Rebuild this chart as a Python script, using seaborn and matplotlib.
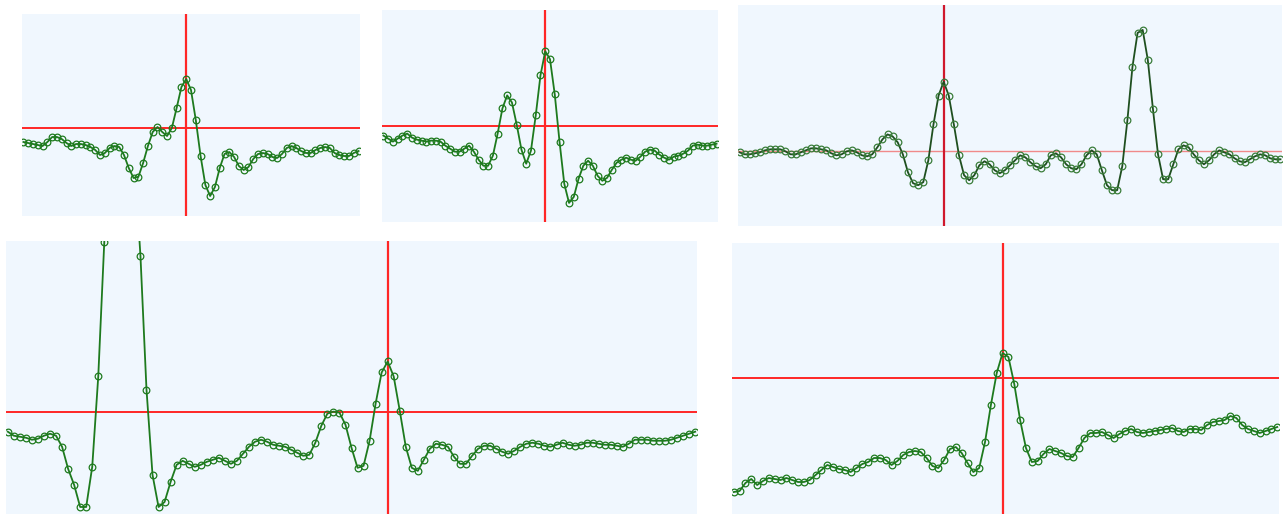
import numpy as np
import pandas as pd
import matplotlib
matplotlib.use('Agg')
import matplotlib.pyplot as plt
import seaborn as sns

# amplitude of each trace (units: px above the red baseline)
trace_a = [-14, -15, -16, -17, -18, -14, -9, -9, -11, -15, -18, -16, -16, -17, -19, -22,
           -27, -25, -20, -18, -19, -27, -40, -50, -49, -35, -18, -4, 1, -4, -8, 0,
           20, 41, 49, 38, 8, -28, -57, -68, -59, -40, -26, -24, -29, -38, -42, -39,
           -31, -26, -25, -26, -29, -30, -26, -20, -18, -20, -23, -25, -25, -22, -20,
           -19, -20, -25, -27, -28, -28, -25, -23]
trace_b = [-10, -13, -16, -13, -10, -8, -12, -14, -15, -16, -15, -15, -16, -20, -23, -26,
           -26, -23, -20, -26, -34, -40, -40, -30, -8, 17, 30, 23, 1, -24, -38, -25,
           10, 50, 74, 66, 31, -16, -58, -77, -71, -53, -40, -35, -40, -50, -55, -52,
           -44, -37, -34, -32, -34, -35, -31, -26, -24, -25, -29, -32, -34, -31, -30,
           -28, -25, -20, -19, -20, -20, -19, -18]
trace_c = [-1, -3, -3, -2, -1, 1, 2, 2, 2, 0, -3, -3, -1, 1, 3, 3, 2, 1, -2, -4, -3, 0,
           1, -1, -4, -5, -3, 4, 12, 17, 15, 9, -3, -21, -32, -34, -31, -9, 27, 56, 70,
           56, 27, -4, -24, -29, -24, -14, -10, -13, -19, -22, -19, -14,
           -9, -4, -6, -11, -15, -17, -13, -4, -2, -6, -13, -17, -18, -13, -4, 1, -3,
           -19, -34, -39, -39, -15, 31, 85, 119, 122, 92, 43, -3, -28, -28, -13, 2, 6,
           4, -3, -9, -13, -9, -3, 1, -1, -3, -7, -10, -11, -8, -5, -3, -4, -7, -8, -8]
trace_d = [-20, -24, -25, -26, -28, -27, -24, -22, -24, -35, -57, -73, -95, -95, -55, 35,
           169, 280, 340, 350, 320, 250, 155, 22, -63, -95, -90, -70, -53, -49, -52,
           -55, -53, -50, -48, -46, -49, -52, -49, -42, -35, -30, -28, -30, -33, -34,
           -35, -38, -41, -44, -43, -31, -14, -2, 0, -1, -13, -36, -56, -54, -29, 8,
           39, 50, 35, 1, -35, -56, -59, -48, -37, -32, -33, -35, -45, -52, -52, -44,
           -37, -34, -34, -37, -40, -42, -39, -35, -32, -31, -32, -34, -35, -33, -31,
           -33, -34, -33, -31, -31, -32, -33, -33, -34, -35, -32, -28,
           -28, -28, -29, -29, -29, -28, -26, -24, -22, -20]
trace_e = [-114, -113, -105, -101, -107, -103, -100, -101, -102, -100, -102, -104, -104,
           -102, -97, -92, -87, -89, -91, -92, -94, -90, -86, -84, -80, -80, -82, -87,
           -83, -77, -74, -73, -74, -80, -88, -90, -82, -71, -69, -75, -85, -94, -90,
           -64, -27, 5, 25, 21, -6, -42, -70, -84, -83, -76, -71, -73, -75, -78, -79,
           -70, -60, -55, -55, -54, -57, -60, -56, -53, -51, -54, -55, -54, -53,
           -52, -51, -50, -53, -54, -51, -51, -52, -47, -44, -43, -42, -38, -40, -47,
           -51, -53, -55, -53, -51, -49]

traces = [trace_a, trace_b, trace_c, trace_d, trace_e]
# sample index of the red cursor in each trace
cursor_idx = [34, 34, 40, 63, 46]
# visible amplitude range of each panel
y_ranges = [(-88, 114), (-96, 115), (-75, 147), (-102, 170), (-136, 135)]

# panel rectangles in pixels: left, top, right, bottom
rects = [(22, 14, 360, 216), (382, 10, 718, 222), (738, 5, 1282, 226),
         (6, 241, 697, 514), (732, 243, 1279, 514)]

W, H = 1286, 514
fig = plt.figure(figsize=(W / 100, H / 100), dpi=100)

for i, vals in enumerate(traces):
    l, t, r, b = rects[i]
    ax = fig.add_axes([l / W, 1 - b / H, (r - l) / W, (b - t) / H])
    ax.set_facecolor('#f0f7fe')
    df = pd.DataFrame({'n': np.arange(len(vals)), 'v': vals})

    if i == 2:
        line_col, mk_col = '#1f4f1f', '#3a7d3a'
        h_col, h_lw, v_col = '#f08a8a', 1.0, '#d0182c'
    else:
        line_col, mk_col = '#1e7a1e', '#1e7a1e'
        h_col, h_lw, v_col = '#ff2626', 1.4, '#ff2626'

    ax.axhline(0, color=h_col, lw=h_lw, zorder=1)
    ax.axvline(cursor_idx[i], color=v_col, lw=1.6, zorder=1)
    sns.lineplot(data=df, x='n', y='v', ax=ax, color=line_col, lw=1.3,
                 marker='o', markersize=4.8, markerfacecolor='none',
                 markeredgecolor=mk_col, markeredgewidth=0.9, zorder=2)

    ax.set_xlim(-0.3, len(vals) - 1 + 0.3)
    ax.set_ylim(*y_ranges[i])
    ax.set_xticks([])
    ax.set_yticks([])
    ax.set_xlabel('')
    ax.set_ylabel('')
    for s in ax.spines.values():
        s.set_visible(False)

fig.savefig('out.png', dpi=100)
plt.close()
